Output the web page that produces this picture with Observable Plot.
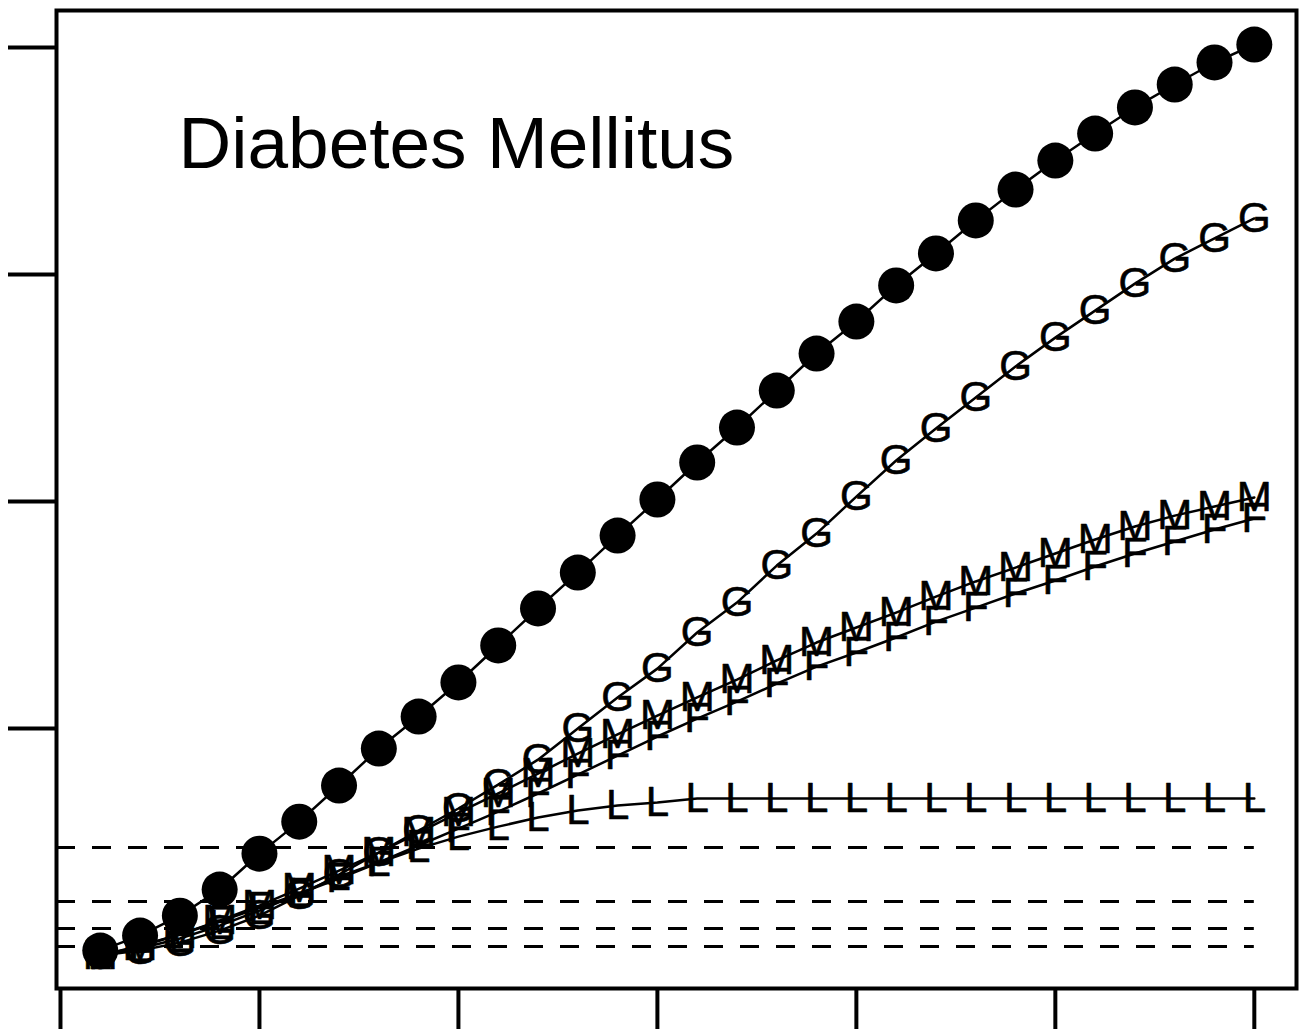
<!DOCTYPE html>
<html>
<head>
<meta charset="utf-8">
<script src="https://cdn.jsdelivr.net/npm/d3@7"></script>
<script src="https://cdn.jsdelivr.net/npm/@observablehq/plot@0.6"></script>
<style>
  html, body { margin: 0; padding: 0; background: #fff; }
  #chart svg { display: block; }
</style>
</head>
<body>
<div id="chart"></div>
<script>
const title = "Diabetes Mellitus";
const xIndex = [1,2,3,4,5,6,7,8,9,10,11,12,13,14,15,16,17,18,19,20,21,22,23,24,25,26,27,28,29,30];
const xTicks = [0, 5, 10, 15, 20, 25, 30];
const yTicks = [10, 20, 30, 40];

const dotSeries = [0.22,0.88,1.76,2.91,4.49,5.90,7.49,9.12,10.53,12.03,13.66,15.29,16.87,18.50,20.09,21.72,23.26,24.89,26.52,27.93,29.52,30.93,32.38,33.74,35.02,36.21,37.36,38.37,39.34,40.13];
const gSeries = [0.00,0.22,0.57,1.10,1.76,2.64,3.57,4.54,5.51,6.48,7.53,8.63,10.00,11.37,12.64,14.23,15.55,17.18,18.59,20.22,21.81,23.22,24.58,25.95,27.22,28.41,29.60,30.70,31.59,32.47];
const mSeries = [0.00,0.40,0.93,1.54,2.20,2.95,3.74,4.54,5.42,6.30,7.14,8.02,8.90,9.74,10.57,11.37,12.16,13.00,13.79,14.45,15.11,15.81,16.48,17.09,17.71,18.33,18.90,19.38,19.78,20.18];
const fSeries = [0.00,0.44,0.93,1.50,2.11,2.73,3.39,4.10,4.85,5.59,6.34,7.14,7.97,8.81,9.65,10.44,11.19,11.98,12.73,13.35,14.01,14.71,15.33,15.95,16.52,17.14,17.71,18.24,18.77,19.25];
const lSeries = [0.00,0.31,0.75,1.32,1.98,2.73,3.48,4.10,4.71,5.24,5.68,6.08,6.39,6.61,6.74,6.92,6.92,6.92,6.92,6.92,6.92,6.92,6.92,6.92,6.92,6.92,6.92,6.92,6.92,6.92];
const letterSeries = [
  {symbol: "G", values: gSeries},
  {symbol: "M", values: mSeries},
  {symbol: "F", values: fSeries},
  {symbol: "L", values: lSeries}
];
const refLevels = [4.76, 2.38, 1.19, 0.40];
const refStart = -0.1;
const refEnd = 30;

const dotData = xIndex.map((x, i) => ({x, y: dotSeries[i]}));
const letterData = letterSeries.flatMap(s => xIndex.map((x, i) => ({x, y: s.values[i], symbol: s.symbol})));
const refData = refLevels.map(y => ({y, x1: refStart, x2: refEnd}));

const font = "'Liberation Sans', Arial, sans-serif";

const chart = Plot.plot({
  width: 1299,
  height: 1029,
  marginLeft: 56,
  marginRight: 3,
  marginTop: 10,
  marginBottom: 41,
  style: {background: "#fff", fontFamily: font},
  x: {domain: [-0.1, 31.06]},
  y: {domain: [-1.45, 41.63]},
  marks: [
    Plot.ruleY(refData, {y: "y", x1: "x1", x2: "x2", stroke: "#000", strokeWidth: 3, strokeDasharray: "19,17"}),
    Plot.line(dotData, {x: "x", y: "y", stroke: "#000", strokeWidth: 2.5}),
    Plot.line(letterData, {x: "x", y: "y", z: "symbol", stroke: "#000", strokeWidth: 2.5}),
    Plot.dot(dotData, {x: "x", y: "y", r: 18, fill: "#000", stroke: "none"}),
    Plot.text(letterData, {x: "x", y: "y", text: "symbol", fontSize: 42, fill: "#000", stroke: "#000", strokeWidth: 0.6, fontFamily: font}),
    Plot.text([title], {frameAnchor: "top-left", text: d => d, textAnchor: "start", lineAnchor: "bottom", dx: 122, dy: 157, fontSize: 73, fill: "#000", fontFamily: font}),
    Plot.frame({stroke: "#000", strokeWidth: 4}),
    Plot.axisX({ticks: xTicks, tickSize: 42, tickFormat: () => "", label: null, strokeWidth: 4}),
    Plot.axisY({ticks: yTicks, tickSize: 48, tickFormat: () => "", label: null, strokeWidth: 4})
  ]
});
document.getElementById("chart").appendChild(chart);
</script>
</body>
</html>
